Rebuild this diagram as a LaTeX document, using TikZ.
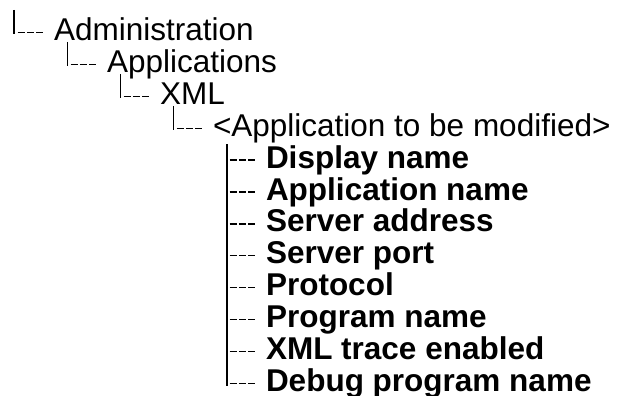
\documentclass[tikz,border=0pt]{standalone}
\usepackage{fontspec}
\setmainfont{Liberation Sans}
\usetikzlibrary{calc}
\tikzset{
  lbl/.style={inner sep=0pt, outer sep=0pt, anchor=base west, font=\fontsize{31.5}{36}\selectfont},
  lblb/.style={lbl, font=\fontsize{31.5}{36}\selectfont\bfseries},
  bar/.style={line width=1.7pt, line cap=butt},
  longbar/.style={line width=2pt, line cap=butt},
  dashline/.style={line width=1.25pt, dash pattern=on 7.33pt off 2pt}
}
\begin{document}
\begin{tikzpicture}[x=1pt,y=-1pt]
\useasboundingbox (0,0) rectangle (619,396);
% text nodes
\node[lbl] (admin) at (54,40.5) {Administration};
\node[lbl] (apps) at (107,72.4) {Applications};
\node[lbl] (xml) at (160,104.3) {XML};
\node[lbl] (app) at (213,136.2) {<Application to be modified>};
\node[lblb] (c1) at (266,168.1) {Display name};
\node[lblb] (c2) at (266,200.0) {Application name};
\node[lblb] (c3) at (266,231.9) {Server address};
\node[lblb] (c4) at (266,263.8) {Server port};
\node[lblb] (c5) at (266,295.7) {Protocol};
\node[lblb] (c6) at (266,327.6) {Program name};
\node[lblb] (c7) at (266,359.5) {XML trace enabled};
\node[lblb] (c8) at (266,391.4) {Debug program name};
% root connector
\draw[bar] ($(admin.base west)+(-40,-30.5)$) -- ($(admin.base west)+(-40,-6)$);
\draw[dashline] ($(admin.base west)+(-36.5,-8)$) -- ($(admin.base west)+(-10.5,-8)$);
% level connectors
\foreach \p/\c in {admin/apps, apps/xml, xml/app}{
  \coordinate (bx) at ($(\c.base west)+(-39.5,0)$);
  \draw[bar] ($(bx |- \p.base)+(0,1.5)$) -- ($(\c.base west)+(-39.5,-6)$);
  \draw[dashline] ($(\c.base west)+(-36.5,-8)$) -- ($(\c.base west)+(-10.5,-8)$);
}
% children of <Application to be modified>
\coordinate (cx) at ($(c1.base west)+(-39.5,0)$);
\draw[longbar] ($(cx |- app.base)+(0,8)$) -- ($(c8.base west)+(-39.5,-5.5)$);
\foreach \c in {c1,c2,c3,c4,c5,c6,c7,c8}{
  \draw[dashline] ($(\c.base west)+(-36.5,-8)$) -- ($(\c.base west)+(-10.5,-8)$);
}
\end{tikzpicture}
\end{document}
